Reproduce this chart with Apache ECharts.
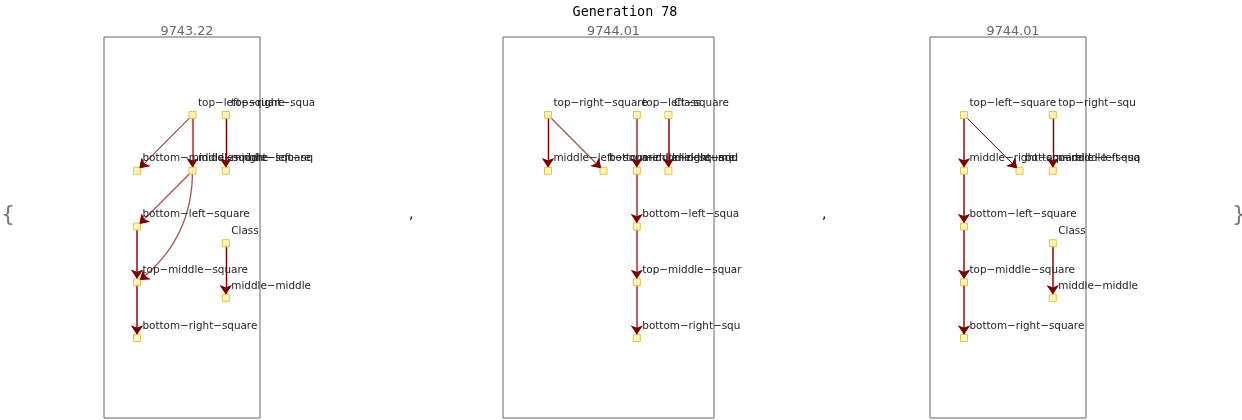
<!doctype html>
<html>
<head>
<meta charset="utf-8">
<title>Generation 78</title>
<script src="https://cdn.jsdelivr.net/npm/echarts@6/dist/echarts.min.js"></script>
<style>
  html, body { margin: 0; padding: 0; background: #fff; }
  #chart { width: 1242px; height: 420px; }
</style>
</head>
<body>
<div id="chart"></div>
<script>
// ---- data ----
const generation = 78;
const scores = ['9743.22', '9744.01', '9744.01'];

// nodes: [name, column, layer]
const nodes1 = [
  ['top−left−square', 1, 0], ['top−right−square', 1.6, 0],
  ['bottom−middle−square', 0, 1], ['middle−right−square', 1, 1], ['middle−left−square', 1.6, 1],
  ['bottom−left−square', 0, 2], ['Class', 1.6, 2.3],
  ['top−middle−square', 0, 3], ['middle−middle−square', 1.6, 3.28],
  ['bottom−right−square', 0, 4]
];
const nodes2 = [
  ['top−right−square', 0, 0], ['top−left−square', 1.6, 0], ['Class', 2.17, 0],
  ['middle−left−square', 0, 1], ['bottom−middle−square', 1, 1],
  ['middle−right−square', 1.6, 1], ['middle−middle−square', 2.17, 1],
  ['bottom−left−square', 1.6, 2], ['top−middle−square', 1.6, 3], ['bottom−right−square', 1.6, 4]
];
const nodes3 = [
  ['top−left−square', 0, 0], ['top−right−square', 1.6, 0],
  ['middle−right−square', 0, 1], ['bottom−middle−square', 1, 1], ['middle−left−square', 1.6, 1],
  ['bottom−left−square', 0, 2], ['Class', 1.6, 2.3],
  ['top−middle−square', 0, 3], ['middle−middle−square', 1.6, 3.28],
  ['bottom−right−square', 0, 4]
];

// edges: [source, target, kind]
const edges1 = [
  ['top−left−square', 'bottom−middle−square', 'thin'],
  ['top−left−square', 'middle−right−square', 'light'],
  ['top−right−square', 'middle−left−square', 'dark'],
  ['middle−right−square', 'bottom−left−square', 'pale'],
  ['middle−right−square', 'top−middle−square', 'paleCurve'],
  ['bottom−left−square', 'top−middle−square', 'mid'],
  ['top−middle−square', 'bottom−right−square', 'mid'],
  ['Class', 'middle−middle−square', 'dark']
];
const edges2 = [
  ['top−right−square', 'middle−left−square', 'dark'],
  ['top−right−square', 'bottom−middle−square', 'pale'],
  ['top−left−square', 'middle−right−square', 'light'],
  ['Class', 'middle−middle−square', 'mid'],
  ['middle−right−square', 'bottom−left−square', 'light'],
  ['bottom−left−square', 'top−middle−square', 'light'],
  ['top−middle−square', 'bottom−right−square', 'light']
];
const edges3 = [
  ['top−left−square', 'middle−right−square', 'mid'],
  ['top−left−square', 'bottom−middle−square', 'thin'],
  ['top−right−square', 'middle−left−square', 'dark'],
  ['middle−right−square', 'bottom−left−square', 'mid'],
  ['bottom−left−square', 'top−middle−square', 'mid'],
  ['top−middle−square', 'bottom−right−square', 'mid'],
  ['Class', 'middle−middle−square', 'mid']
];

const panelNodes = [nodes1, nodes2, nodes3];
const panelEdges = [edges1, edges2, edges3];

// ---- layout / style ----
const frames = [
  { left: 104, width: 156, x0: 137, clip: 316 },
  { left: 503, width: 211, x0: 548, clip: 743 },
  { left: 930, width: 156, x0: 964, clip: 1142 }
];
const frameTop = 37, frameBottom = 418, row0 = 115;
const colPx = 55.5, rowPx = 55.75;
const arrowRed = '#7d0000';

const edgeStyles = {
  thin:      { color: '#5a0000', width: 1, curveness: 0 },
  dark:      { color: '#820000', width: 1.4, curveness: 0 },
  mid:       { color: '#a32a2a', width: 1.7, curveness: 0 },
  pale:      { color: '#aa5c5c', width: 1.3, curveness: 0 },
  paleCurve: { color: '#aa5c5c', width: 1.3, curveness: 0.25 },
  light:     { color: '#b86e6e', width: 2.2, curveness: 0 }
};

const chart = echarts.init(document.getElementById('chart'), null, { renderer: 'canvas' });

function nodeData(i) {
  return panelNodes[i].map(function (n) { return { name: n[0], value: [n[1], n[2]] }; });
}

const grids = [], xAxes = [], yAxes = [], series = [], titles = [];
frames.forEach(function (f, i) {
  grids.push({
    left: f.left, top: frameTop, width: f.width, height: frameBottom - frameTop,
    show: true, borderColor: '#666', borderWidth: 1, backgroundColor: 'transparent'
  });
  xAxes.push({
    gridIndex: i, type: 'value', show: false,
    min: (f.left - f.x0) / colPx, max: (f.left + f.width - f.x0) / colPx
  });
  yAxes.push({
    gridIndex: i, type: 'value', show: false, inverse: true,
    min: (frameTop - row0) / rowPx, max: (frameBottom - row0) / rowPx
  });
  titles.push({
    text: scores[i], left: f.left + f.width / 2, top: 20, textAlign: 'center',
    textStyle: { fontFamily: 'DejaVu Sans', fontSize: 12.8, fontWeight: 'normal', color: '#666' }
  });
  // edges, nodes and labels
  series.push({
    type: 'graph', coordinateSystem: 'cartesian2d', xAxisIndex: i, yAxisIndex: i,
    symbol: 'rect', symbolSize: 7, silent: true, animation: false,
    edgeSymbol: ['none', 'arrow'], edgeSymbolSize: [0, 9],
    itemStyle: { color: '#fff6b8', borderColor: '#e2c446', borderWidth: 1 },
    label: {
      show: true, position: 'right', distance: 1.5, offset: [0, -12],
      formatter: '{b}', fontFamily: 'DejaVu Sans', fontSize: 10.4, color: '#222'
    },
    data: nodeData(i),
    links: panelEdges[i].map(function (e) {
      const s = edgeStyles[e[2]];
      return { source: e[0], target: e[1], lineStyle: { color: s.color, width: s.width, curveness: s.curveness, opacity: 1 } };
    }),
    z: 3
  });
  // dark arrowheads drawn over the edges
  series.push({
    type: 'graph', coordinateSystem: 'cartesian2d', xAxisIndex: i, yAxisIndex: i,
    symbol: 'rect', symbolSize: 7, silent: true, animation: false,
    edgeSymbol: ['none', 'arrow'], edgeSymbolSize: [0, 9],
    itemStyle: { opacity: 0 },
    label: { show: false },
    data: nodeData(i),
    links: panelEdges[i].map(function (e) {
      const s = edgeStyles[e[2]];
      return { source: e[0], target: e[1], lineStyle: { color: arrowRed, width: 0.1, curveness: s.curveness, opacity: 1 } };
    }),
    z: 5
  });
});

titles.push({
  text: 'Generation ' + generation, left: 620, top: 1, textAlign: 'center',
  textStyle: { fontFamily: 'DejaVu Sans Mono', fontSize: 13.4, fontWeight: 'normal', color: '#000' }
});

chart.setOption({
  animation: false,
  title: titles,
  grid: grids,
  xAxis: xAxes,
  yAxis: yAxes,
  series: series,
  graphic: [
    { type: 'text', left: 1, top: 204, style: { text: '{', font: '22px "DejaVu Sans"', fill: '#777' } },
    { type: 'text', left: 409, top: 207, style: { text: ',', font: '14px "DejaVu Sans"', fill: '#000' } },
    { type: 'text', left: 822, top: 207, style: { text: ',', font: '14px "DejaVu Sans"', fill: '#000' } },
    { type: 'text', left: 1232, top: 204, style: { text: '}', font: '22px "DejaVu Sans"', fill: '#777' } }
  ]
});

// cut labels at the plot's right edge, like the original
chart.setOption({
  series: series.map(function (s, k) {
    const i = Math.floor(k / 2);
    if (k % 2) return {};
    return {
      data: panelNodes[i].map(function (n) {
        const px = chart.convertToPixel({ gridIndex: i }, [n[1], n[2]])[0];
        return {
          name: n[0], value: [n[1], n[2]],
          label: { width: Math.max(1, frames[i].clip - (px + 5)), overflow: 'truncate', ellipsis: '' }
        };
      })
    };
  })
});
</script>
</body>
</html>
